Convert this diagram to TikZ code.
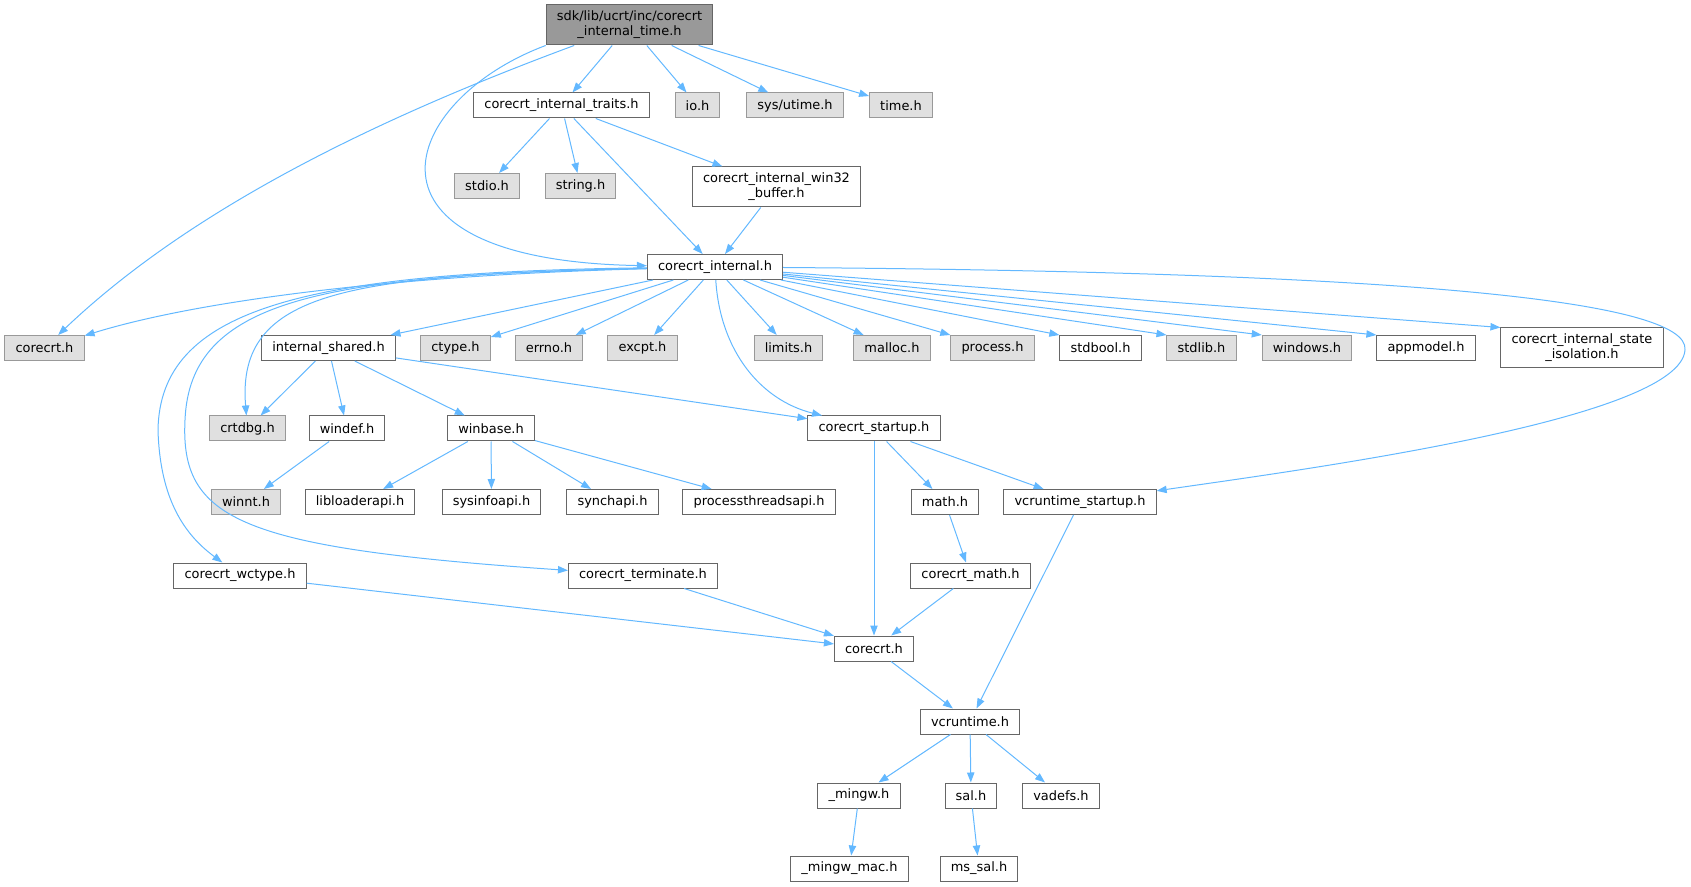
\documentclass[tikz,border=0pt]{standalone}
\usepackage{fontspec}
\setmainfont{DejaVu Sans}
\usetikzlibrary{arrows.meta, positioning}
\definecolor{linkblue}{HTML}{63B8FF}
\definecolor{boxgray}{HTML}{666666}
\definecolor{extgray}{HTML}{999999}
\definecolor{extfill}{HTML}{E0E0E0}

\begin{document}
\begin{tikzpicture}[
		x=0.75pt, y=-0.75pt,
		file/.style={draw=boxgray, fill=white, line width=0.75pt, inner xsep=8pt, inner ysep=0pt,
			minimum height=18.75pt, align=center, font=\fontsize{9.7}{11.25}\selectfont},
		sysfile/.style={file, draw=extgray, fill=extfill},
		root/.style={file, fill=extgray, minimum height=30pt},
		twoline/.style={minimum height=30pt},
		dep/.style={draw=linkblue, line width=0.75pt, -{Triangle[length=7.5pt,width=5.5pt]}}
		]
		\useasboundingbox (0,0) rectangle (1691,887);
		
		% Les fichiers
		\node[root] (top) at (629.5,25) {sdk/lib/ucrt/inc/corecrt\\\_internal\_time.h};
		\node[file] (traits) at (561.5,105.5) {corecrt\_internal\_traits.h};
		\node[sysfile] (io) at (697.5,105.5) {io.h};
		\node[sysfile] (utime) at (795,105.5) {sys/utime.h};
		\node[sysfile] (time) at (901,105.5) {time.h};
		\node[sysfile] (stdio) at (487,186) {stdio.h};
		\node[sysfile] (string) at (580.5,186) {string.h};
		\node[file, twoline] (wbuf) at (776.5,187) {corecrt\_internal\_win32\\\_buffer.h};
		\node[file] (cint) at (715,267) {corecrt\_internal.h};
		\node[sysfile] (crtA) at (44.5,348) {corecrt.h};
		\node[file] (ishared) at (328.5,348) {internal\_shared.h};
		\node[sysfile] (ctype) at (455.5,348) {ctype.h};
		\node[sysfile] (errno) at (549,348) {errno.h};
		\node[sysfile] (excpt) at (642.5,348) {excpt.h};
		\node[sysfile] (limits) at (788.5,348) {limits.h};
		\node[sysfile] (malloc) at (892,348) {malloc.h};
		\node[sysfile] (process) at (992.5,348) {process.h};
		\node[file] (stdbool) at (1100.5,348) {stdbool.h};
		\node[sysfile] (stdlib) at (1201.5,348) {stdlib.h};
		\node[sysfile] (windows) at (1307,348) {windows.h};
		\node[file] (appmodel) at (1426,348) {appmodel.h};
		\node[file, twoline] (isol) at (1582,348) {corecrt\_internal\_state\\\_isolation.h};
		\node[sysfile] (crtdbg) at (247.5,428.5) {crtdbg.h};
		\node[file] (windef) at (347,428.5) {windef.h};
		\node[file] (winbase) at (491,428.5) {winbase.h};
		\node[file] (startup) at (874,428.5) {corecrt\_startup.h};
		\node[sysfile] (winnt) at (246,502) {winnt.h};
		\node[file] (libload) at (360,502) {libloaderapi.h};
		\node[file] (sysinfo) at (491.5,502) {sysinfoapi.h};
		\node[file] (synch) at (612.5,502) {synchapi.h};
		\node[file] (procthr) at (759,502) {processthreadsapi.h};
		\node[file] (math) at (945,502) {math.h};
		\node[file] (vstartup) at (1080,502) {vcruntime\_startup.h};
		\node[file] (wctype) at (240,575.5) {corecrt\_wctype.h};
		\node[file] (term) at (643,575.5) {corecrt\_terminate.h};
		\node[file] (cmath) at (970.5,575.5) {corecrt\_math.h};
		\node[file] (crtB) at (874,648.5) {corecrt.h};
		\node[file] (vcrt) at (970,721.5) {vcruntime.h};
		\node[file] (mingw) at (859,795.5) {\_mingw.h};
		\node[file] (sal) at (971,795.5) {sal.h};
		\node[file] (vadefs) at (1061,795.5) {vadefs.h};
		\node[file] (mingwmac) at (849.5,868.5) {\_mingw\_mac.h};
		\node[file] (mssal) at (979,868.5) {ms\_sal.h};
		
		% Les inclusions
		\draw[dep] (top) .. controls (400,110) and (200,200) .. (crtA);
		\draw[dep] (top.south west) .. controls (400,100) and (340,260) .. (cint);
		\draw[dep] (top) -- (traits);
		\draw[dep] (top) -- (io);
		\draw[dep] (top) -- (utime);
		\draw[dep] (top) -- (time);
		
		\draw[dep] (traits) -- (stdio);
		\draw[dep] (traits) -- (string);
		\draw[dep] (traits) -- (cint);
		\draw[dep] (traits) -- (wbuf);
		\draw[dep] (wbuf) -- (cint);
		
		\draw[dep] (cint) .. controls (400,275) and (200,300) .. (crtA);
		\draw[dep] (cint) .. controls (350,275) and (236,290) .. (crtdbg);
		\draw[dep] (cint) .. controls (300,272) and (160,310) .. (158,430)
			.. controls (160,500) and (185,535) .. (wctype);
		\draw[dep] (cint) .. controls (320,275) and (190,300) .. (185,420)
			.. controls (180,520) and (240,548) .. (term);
		\draw[dep] (cint) -- (ishared);
		\draw[dep] (cint) -- (ctype);
		\draw[dep] (cint) -- (errno);
		\draw[dep] (cint) -- (excpt);
		\draw[dep] (cint) -- (limits);
		\draw[dep] (cint) -- (malloc);
		\draw[dep] (cint) -- (process.north west);
		\draw[dep] (cint) -- (stdbool.north west);
		\draw[dep] (cint) -- (stdlib.north west);
		\draw[dep] (cint) -- (windows.north west);
		\draw[dep] (cint) -- (appmodel.north west);
		\draw[dep] (cint) -- (isol.north west);
		\draw[dep] (cint) .. controls (1400,272) and (1690,300) .. (1685,350)
			.. controls (1680,420) and (1300,470) .. (vstartup);
		\draw[dep] (cint) .. controls (720,350) and (760,400) .. (startup);
		
		\draw[dep] (ishared) -- (crtdbg);
		\draw[dep] (ishared) -- (windef);
		\draw[dep] (ishared) -- (winbase);
		\draw[dep] (ishared) -- (startup);
		\draw[dep] (windef) -- (winnt);
		\draw[dep] (winbase) -- (libload);
		\draw[dep] (winbase) -- (sysinfo);
		\draw[dep] (winbase) -- (synch);
		\draw[dep] (winbase) -- (procthr);
		
		\draw[dep] (startup) -- (crtB);
		\draw[dep] (startup) -- (math);
		\draw[dep] (startup) -- (vstartup);
		\draw[dep] (math) -- (cmath);
		\draw[dep] (vstartup) -- (vcrt);
		\draw[dep] (wctype) -- (crtB);
		\draw[dep] (term) -- (crtB);
		\draw[dep] (cmath) -- (crtB);
		\draw[dep] (crtB) -- (vcrt);
		\draw[dep] (vcrt) -- (mingw);
		\draw[dep] (vcrt) -- (sal);
		\draw[dep] (vcrt) -- (vadefs);
		\draw[dep] (mingw) -- (mingwmac);
		\draw[dep] (sal) -- (mssal);
	\end{tikzpicture}
\end{document}
